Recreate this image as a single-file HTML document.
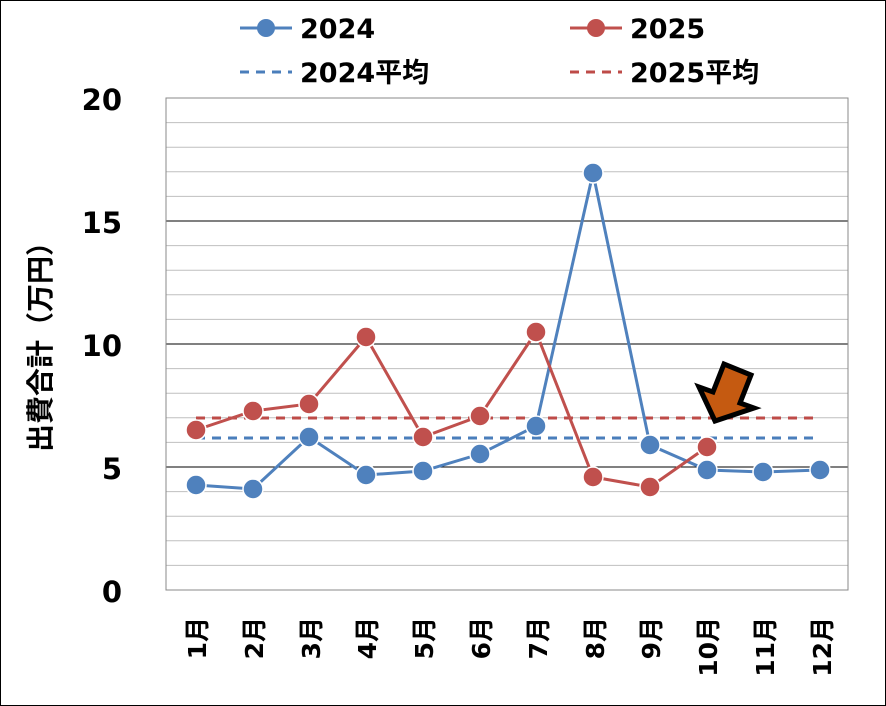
<!DOCTYPE html>
<html><head><meta charset="utf-8"><style>
body{margin:0;background:#fff}
svg{display:block}
text{font-family:"DejaVu Sans","Noto Sans CJK JP",sans-serif;font-weight:bold;fill:#000}
</style></head><body>
<svg width="886" height="706" viewBox="0 0 886 706">
<rect x="0.5" y="0.5" width="885" height="705" fill="#fff" stroke="#000"/>
<g stroke="#bfbfbf" stroke-width="1">
<line x1="166" x2="848" y1="565.4" y2="565.4"/><line x1="166" x2="848" y1="540.8" y2="540.8"/><line x1="166" x2="848" y1="516.2" y2="516.2"/><line x1="166" x2="848" y1="491.6" y2="491.6"/>
<line x1="166" x2="848" y1="442.4" y2="442.4"/><line x1="166" x2="848" y1="417.8" y2="417.8"/><line x1="166" x2="848" y1="393.2" y2="393.2"/><line x1="166" x2="848" y1="368.6" y2="368.6"/>
<line x1="166" x2="848" y1="319.4" y2="319.4"/><line x1="166" x2="848" y1="294.8" y2="294.8"/><line x1="166" x2="848" y1="270.2" y2="270.2"/><line x1="166" x2="848" y1="245.6" y2="245.6"/>
<line x1="166" x2="848" y1="196.4" y2="196.4"/><line x1="166" x2="848" y1="171.8" y2="171.8"/><line x1="166" x2="848" y1="147.2" y2="147.2"/><line x1="166" x2="848" y1="122.6" y2="122.6"/>
</g>
<g stroke="#000" stroke-width="1">
<line x1="166" x2="848" y1="467" y2="467"/><line x1="166" x2="848" y1="344" y2="344"/><line x1="166" x2="848" y1="221" y2="221"/>
</g>
<rect x="166" y="98" width="682" height="492" fill="none" stroke="#888"/>
<g font-size="29" text-anchor="end">
<text x="122" y="110">20</text><text x="122" y="233">15</text><text x="122" y="356">10</text><text x="122" y="479">5</text><text x="122" y="602">0</text>
</g>
<text font-size="28" text-anchor="middle" transform="translate(50,340) rotate(-90)">出費合計（万円）</text>
<g font-size="25" text-anchor="end">
<text transform="translate(206,617) rotate(-90)">1月</text>
<text transform="translate(263,617) rotate(-90)">2月</text>
<text transform="translate(320,617) rotate(-90)">3月</text>
<text transform="translate(376,617) rotate(-90)">4月</text>
<text transform="translate(433,617) rotate(-90)">5月</text>
<text transform="translate(490,617) rotate(-90)">6月</text>
<text transform="translate(547,617) rotate(-90)">7月</text>
<text transform="translate(604,617) rotate(-90)">8月</text>
<text transform="translate(660,617) rotate(-90)">9月</text>
<text transform="translate(717,617) rotate(-90)">10月</text>
<text transform="translate(774,617) rotate(-90)">11月</text>
<text transform="translate(831,617) rotate(-90)">12月</text>
</g>
<line x1="196" x2="820" y1="438" y2="438" stroke="#4a7ebb" stroke-width="3" stroke-dasharray="9,7"/>
<line x1="196" x2="820" y1="418" y2="418" stroke="#be4b48" stroke-width="3" stroke-dasharray="9,7"/>
<g fill="#4f81bd" stroke="#4f81bd">
<polyline fill="none" stroke-width="3" points="196,485 253,489 309,437 366,475 423,471 480,454 536,426 593,173 650,445 707,470 763,472 820,470"/>
<g stroke="#fff" stroke-width="1.5">
<circle cx="196" cy="485" r="10"/><circle cx="253" cy="489" r="10"/><circle cx="309" cy="437" r="10"/><circle cx="366" cy="475" r="10"/><circle cx="423" cy="471" r="10"/><circle cx="480" cy="454" r="10"/><circle cx="536" cy="426" r="10"/><circle cx="593" cy="173" r="10"/><circle cx="650" cy="445" r="10"/><circle cx="707" cy="470" r="10"/><circle cx="763" cy="472" r="10"/><circle cx="820" cy="470" r="10"/>
</g></g>
<g fill="#c0504d" stroke="#c0504d">
<polyline fill="none" stroke-width="3" points="196,430 253,411 309,404 366,337 423,437 480,416 536,332 593,477 650,487 707,447"/>
<g stroke="#fff" stroke-width="1.5">
<circle cx="196" cy="430" r="10"/><circle cx="253" cy="411" r="10"/><circle cx="309" cy="404" r="10"/><circle cx="366" cy="337" r="10"/><circle cx="423" cy="437" r="10"/><circle cx="480" cy="416" r="10"/><circle cx="536" cy="332" r="10"/><circle cx="593" cy="477" r="10"/><circle cx="650" cy="487" r="10"/><circle cx="707" cy="447" r="10"/>
</g></g>
<polygon points="715,421 699,387 713,392 724,364 751,375 740,403 754,408" fill="#c55a11" stroke="#000" stroke-width="5" stroke-linejoin="miter"/>
<line x1="240" x2="292" y1="28" y2="28" stroke="#4f81bd" stroke-width="3"/><circle cx="266" cy="28" r="9" fill="#4f81bd"/>
<text x="300" y="38" font-size="27">2024</text>
<line x1="570" x2="622" y1="28" y2="28" stroke="#c0504d" stroke-width="3"/><circle cx="596" cy="28" r="9" fill="#c0504d"/>
<text x="630" y="38" font-size="27">2025</text>
<line x1="240" x2="292" y1="72" y2="72" stroke="#4a7ebb" stroke-width="3" stroke-dasharray="9,7"/>
<text x="300" y="82" font-size="27">2024平均</text>
<line x1="570" x2="622" y1="72" y2="72" stroke="#be4b48" stroke-width="3" stroke-dasharray="9,7"/>
<text x="630" y="82" font-size="27">2025平均</text>
</svg>
</body></html>
